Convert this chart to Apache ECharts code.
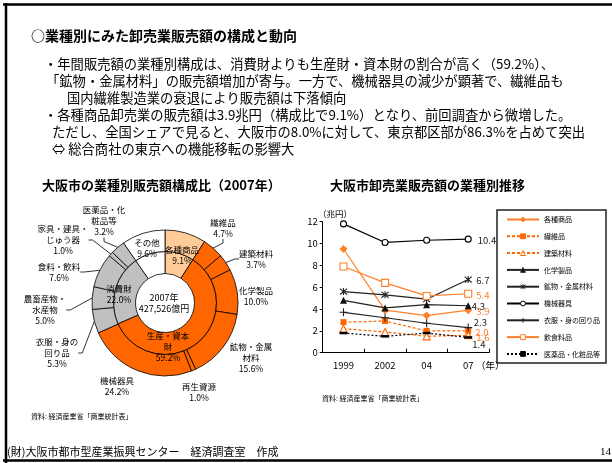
<!DOCTYPE html>
<html><head><meta charset="utf-8">
<script src="https://cdn.jsdelivr.net/npm/echarts@6/dist/echarts.min.js"></script>
<style>html,body{margin:0;padding:0;background:#fff}#c{width:612px;height:463px}</style>
</head><body><div id="c"></div>
<script>
const FONT = '"Noto Sans CJK JP", "Noto Sans", sans-serif';

// ---- pie data ----
const innerNames = ['各種商品', '生産・資本財', '消費財', 'その他'];
const innerValues = [9.1, 59.2, 22.0, 9.6];
const innerLabelText = ['', '生産・資本\n財', '消費財', ''];
const outerNames = ['各種商品', '繊維品', '建築材料', '化学製品', '鉱物・金属材料', '再生資源', '機械器具',
  '衣服・身の回り品', '農畜産物・水産物', '食料・飲料', '家具・建具・じゅう器', '医薬品・化粧品等', 'その他'];
const outerValues = [9.1, 4.7, 3.7, 10.0, 15.6, 1.0, 24.2, 5.3, 5.0, 7.6, 1.0, 3.2, 9.6];
const outerLabelText = ['各種商品', '繊維品', '建築材料', '化学製品', '鉱物・金属\n材料', '再生資源', '機械器具',
  '衣服・身の\n回り品', '農畜産物・\n水産物', '食料・飲料', '家具・建具・\nじゅう器', '医薬品・化\n粧品等', 'その他'];
const pieTotal = '427,526億円';

// ---- line data (兆円) ----
const years = ['1999', '2002', '04', '07'];
const lineNames = ['各種商品', '繊維品', '建築材料', '化学製品', '鉱物・金属材料', '機械器具', '衣服・身の回り品', '飲食料品', '医薬品・化粧品等'];
const vKakushu = [9.5, 3.9, 3.4, 3.9];
const vSeni = [2.8, 2.9, 2.0, 2.0];
const vKenchiku = [2.2, 1.9, 1.5, 1.6];
const vKagaku = [4.8, 4.1, 4.4, 4.3];
const vKobutsu = [5.6, 5.3, 4.9, 6.7];
const vKikai = [11.8, 10.1, 10.3, 10.4];
const vIfuku = [3.7, 3.2, 2.7, 2.3];
const vInshoku = [7.9, 6.4, 5.2, 5.4];
const vIyaku = [1.8, 1.5, 1.8, 1.4];

// ---- styles / layout ----
const peach = '#FFCC99', orange = '#FF6600', gray = '#C0C0C0', white = '#FFFFFF';
const innerColors = [peach, orange, gray, white];
const outerColors = [peach, orange, orange, orange, orange, orange, orange, gray, gray, gray, gray, gray, white];
const innerLabelPos = [null, [168, 347], [119, 294], null];
const outerLabelPos = [[182, 255], [223, 228], [256, 259], [256, 296], [251, 358], [199, 392], [117, 386],
  [57, 353], [45, 310], [59, 272], [63, 240], [104, 221], [147, 248]];
const outerLineShow = [false, true, true, false, false, false, false, true, true, true, true, true, false];

const OR2 = '#FF7F2A';
const asterisk = 'path://M0,0L10,10M10,0L0,10M5,-1L5,11';
const plus = 'path://M5,0L5,10M0,5L10,5';
const lineStyles = [
  { data: vKakushu, color: OR2, type: 'solid', symbol: 'diamond', size: 8, fill: OR2, lab: [0, 1], labColor: OR2 },
  { data: vSeni, color: orange, type: [3, 2], symbol: 'rect', size: 6, fill: orange, lab: [0, 1.5], labColor: OR2 },
  { data: vKenchiku, color: orange, type: [3, 2], symbol: 'triangle', size: 7, fill: '#fff', lab: [0, 2.5], labColor: OR2 },
  { data: vKagaku, color: '#222', type: 'solid', symbol: 'triangle', size: 7, fill: '#111', lab: [-4, 0.5], labColor: '#222' },
  { data: vKobutsu, color: '#222', type: 'solid', symbol: asterisk, size: 7, fill: '#222', stroke: true, lab: [0, 0.5], labColor: '#222' },
  { data: vKikai, color: '#000', type: 'solid', symbol: 'circle', size: 6, fill: '#fff', lab: [2, 1], labColor: '#222' },
  { data: vIfuku, color: '#222', type: 'solid', symbol: plus, size: 8, fill: '#222', stroke: true, lab: [-3, -5], labColor: '#222' },
  { data: vInshoku, color: OR2, type: 'solid', symbol: 'rect', size: 7, fill: '#fff', lab: [0, 1.3], labColor: OR2 },
  { data: vIyaku, color: '#000', type: [2, 2], symbol: 'rect', size: [8, 2.5], fill: '#000', lab: [-4, 6.5], labColor: '#222' }
];

const lineSeries = lineStyles.map((s, k) => ({
  type: 'line', name: lineNames[k],
  data: s.data.map((v, i) => i === s.data.length - 1 ? {
    value: v,
    label: { show: true, position: 'right', distance: 4, offset: s.lab, color: s.labColor,
      fontSize: 9.5, fontFamily: FONT, formatter: p => p.value.toFixed(1) }
  } : v),
  symbol: s.symbol, symbolSize: s.size, showAllSymbol: true,
  lineStyle: { color: s.color, width: 1.2, type: s.type },
  itemStyle: { color: s.fill, borderColor: s.color, borderWidth: (s.fill === '#fff' || s.stroke) ? 1.1 : 0 },
  z: 3, silent: true, animation: false
}));

const txt = (x, y, text, size, opt = {}) => ({
  type: 'text', x, y, silent: true,
  style: Object.assign({
    text, fill: '#000', fontSize: size, fontFamily: FONT,
    align: 'left', verticalAlign: 'middle', textAlign: 'left', textVerticalAlign: 'middle'
  }, opt)
});
const ln = (x1, y1, x2, y2, w) => ({ type: 'line', silent: true, shape: { x1, y1, x2, y2 }, style: { stroke: '#000', lineWidth: w } });

const chart = echarts.init(document.getElementById('c'), null, { renderer: 'canvas', width: 612, height: 463 });
chart.setOption({
  animation: false,
  backgroundColor: '#fff',
  textStyle: { fontFamily: FONT },
  grid: { left: 322.7, right: 123, top: 221.7, bottom: 110.3, outerBoundsMode: 'none', containLabel: false },
  xAxis: {
    type: 'category', data: years, boundaryGap: true,
    axisLine: { show: true, lineStyle: { color: '#000', width: 1 } },
    axisTick: { show: true, inside: true, length: 4, lineStyle: { color: '#000' } },
    axisLabel: { color: '#000', fontSize: 9.5, margin: 8, fontFamily: FONT },
    splitLine: { show: false }
  },
  yAxis: {
    type: 'value', min: 0, max: 12, interval: 2,
    axisLine: { show: true, lineStyle: { color: '#000', width: 1 } },
    axisTick: { show: true, length: 3, lineStyle: { color: '#000' } },
    axisLabel: { color: '#000', fontSize: 9.5, margin: 5, fontFamily: FONT },
    splitLine: { show: false }
  },
  legend: {
    orient: 'vertical', left: 506, top: 216, itemWidth: 32, itemHeight: 6, itemGap: 9.8, padding: 0,
    selectedMode: false, data: lineNames,
    itemStyle: { borderWidth: 1 },
    textStyle: { fontSize: 7, color: '#000', fontFamily: FONT, lineHeight: 7 }
  },
  series: [
    {
      type: 'pie', name: 'inner', center: [165, 303], radius: [29.5, 51.5], startAngle: 90, clockwise: true,
      silent: true, avoidLabelOverlap: false, animation: false,
      itemStyle: { borderColor: '#000', borderWidth: 0.8 },
      label: { show: true, position: 'inside', color: '#000', fontSize: 8.5, lineHeight: 11, fontFamily: FONT,
        formatter: p => innerLabelText[p.dataIndex] ? innerLabelText[p.dataIndex] + '\n' + p.value.toFixed(1) + '%' : '' },
      labelLine: { show: false },
      labelLayout: p => { const q = innerLabelPos[p.dataIndex]; return q ? { x: q[0], y: q[1], align: 'center', verticalAlign: 'middle' } : {}; },
      data: innerValues.map((v, i) => ({ name: innerNames[i], value: v, itemStyle: { color: innerColors[i] } }))
    },
    {
      type: 'pie', name: 'outer', center: [165, 303], radius: [51.5, 73], startAngle: 90, clockwise: true,
      silent: true, avoidLabelOverlap: false, animation: false,
      itemStyle: { borderColor: '#000', borderWidth: 0.8 },
      label: { show: true, position: 'outside', color: '#000', fontSize: 8.5, lineHeight: 11, fontFamily: FONT,
        formatter: p => outerLabelText[p.dataIndex] + '\n' + p.value.toFixed(1) + '%' },
      labelLine: { show: true, length: 6, length2: 4, lineStyle: { color: '#000', width: 0.8 } },
      labelLayout: p => { const q = outerLabelPos[p.dataIndex]; return { x: q[0], y: q[1], align: 'center', verticalAlign: 'middle' }; },
      data: outerValues.map((v, i) => ({ name: outerNames[i], value: v, itemStyle: { color: outerColors[i] },
        labelLine: { show: outerLineShow[i] } }))
    }
  ].concat(lineSeries),
  graphic: {
    elements: [
      ln(3, 4.5, 612, 4.5, 2.5),
      ln(6, 3, 6, 463, 2.5),
      ln(3, 460.5, 612, 460.5, 2.5),
      txt(31, 36, '○業種別にみた卸売業販売額の構成と動向', 14, { fontWeight: 'bold' }),
      txt(44, 64, '・年間販売額の業種別構成は、消費財よりも生産財・資本財の割合が高く（59.2%）、', 13.3),
      txt(46, 81, '「鉱物・金属材料」の販売額増加が寄与。一方で、機械器具の減少が顕著で、繊維品も', 13.3),
      txt(67, 98, '国内繊維製造業の衰退により販売額は下落傾向', 13.3),
      txt(44, 115, '・各種商品卸売業の販売額は3.9兆円（構成比で9.1%）となり、前回調査から微増した。', 13.3),
      txt(52, 132, 'ただし、全国シェアで見ると、大阪市の8.0%に対して、東京都区部が86.3%を占めて突出', 13.3),
      txt(52, 149, '⇔ 総合商社の東京への機能移転の影響大', 13.3),
      txt(42, 185, '大阪市の業種別販売額構成比（2007年）', 13, { fontWeight: 'bold' }),
      txt(330, 185, '大阪市卸売業販売額の業種別推移', 13, { fontWeight: 'bold' }),
      txt(164, 303, '2007年\n' + pieTotal, 9, { align: 'center', textAlign: 'center', lineHeight: 11 }),
      txt(318, 214, '（兆円）', 8.5),
      txt(476, 365, '（年）', 9.5),
      { type: 'rect', silent: true, shape: { x: 497, y: 210, width: 109, height: 153 }, style: { fill: 'none', stroke: '#222', lineWidth: 1.5 } },
      txt(31, 416, '資料: 経済産業省「商業統計表」', 7),
      txt(322, 398, '資料: 経済産業省「商業統計表」', 7),
      txt(7, 452, '(財)大阪市都市型産業振興センター　経済調査室　作成', 11),
      txt(611, 452, '14', 11, { align: 'right', textAlign: 'right', fontFamily: '"Liberation Serif", serif' })
    ]
  }
});
</script>
</body></html>
